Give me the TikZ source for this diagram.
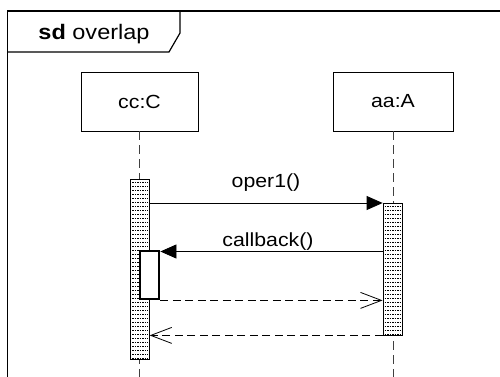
\documentclass[tikz,border=0pt]{standalone}
\usepackage{fontspec}
\setmainfont{Liberation Sans}[FakeStretch=1.12]
\usetikzlibrary{arrows.meta}
\begin{document}
\begin{tikzpicture}[x=1pt,y=-1pt,
  framel/.style={line width=1.2pt, line join=miter},
  lbl/.style={inner sep=0pt, font=\fontsize{19}{23}\selectfont},
  objbox/.style={draw, line width=0.8pt, fill=white, inner sep=0pt, minimum width=117pt, minimum height=59pt, font=\fontsize{19}{23}\selectfont},
  lifeline/.style={draw=black!75, line width=0.8pt, dash pattern=on 9pt off 5pt},
  dotpat/.style={line width=0.8pt, dash pattern=on 1.6pt off 0.9pt},
  act/.style={draw, fill=white, line width=0.8pt, inner sep=0pt,
    path picture={
      \foreach \k in {1,...,50}{
        \draw[dotpat] ([yshift=-\k*4pt+1pt, xshift=1.5pt]path picture bounding box.north west) -- ([yshift=-\k*4pt+1pt, xshift=-1.5pt]path picture bounding box.north east);
      }}},
  nestact/.style={draw, fill=white, line width=2.8pt, inner sep=0pt},
  callmsg/.style={line width=0.8pt, -{Triangle[length=16pt, width=14pt]}},
  retmsg/.style={line width=0.8pt, dash pattern=on 8pt off 4.5pt, -{Straight Barb[length=21pt, width=16pt, line width=0.8pt]}}
]
\useasboundingbox (0,0) rectangle (500,377);
\fill[white] (0,0) rectangle (500,377);

% frame
\draw[framel] (7.5,377) -- (7.5,11) -- (500,11);
\draw[framel] (7.5,52) -- (169,52) -- (180,33) -- (180,11);
\node[inner sep=0pt, anchor=base, font=\fontsize{21}{25}\selectfont] (title) at (94,40) {\textbf{sd} overlap};

% objects
\node[objbox] (cc) at (139.5,101.5) {cc:C};
\node[objbox, minimum width=120pt] (aa) at (393,101.5) {aa:A};

% lifelines
\coordinate (ccend) at (139.5,377);
\coordinate (aaend) at (393,377);
\draw[lifeline] (cc.south) -- (ccend);
\draw[lifeline] (aa.south) -- (aaend);

% activations
\node[act, minimum width=18.5pt, minimum height=180pt] (actc) at (140,269) {};
\node[act, minimum width=19pt, minimum height=132pt] (acta) at (392.5,269) {};
\node[nestact, minimum width=19pt, minimum height=48pt] (nest) at (149.5,275) {};

% messages
\coordinate (m1) at (0,203);
\coordinate (m2) at (0,251.5);
\draw[callmsg] (actc.east |- m1) -- (acta.west |- m1);
\node[lbl, anchor=base] (l1) at (266,187) {oper1()};
\draw[callmsg] (acta.west |- m2) -- (nest.east |- m2);
\node[lbl, anchor=base] (l2) at (268,246) {callback()};
\draw[retmsg] (nest.south east) -- (acta.west |- nest.south east);
\draw[retmsg] (acta.south west) -- (actc.east |- acta.south west);
\end{tikzpicture}
\end{document}
